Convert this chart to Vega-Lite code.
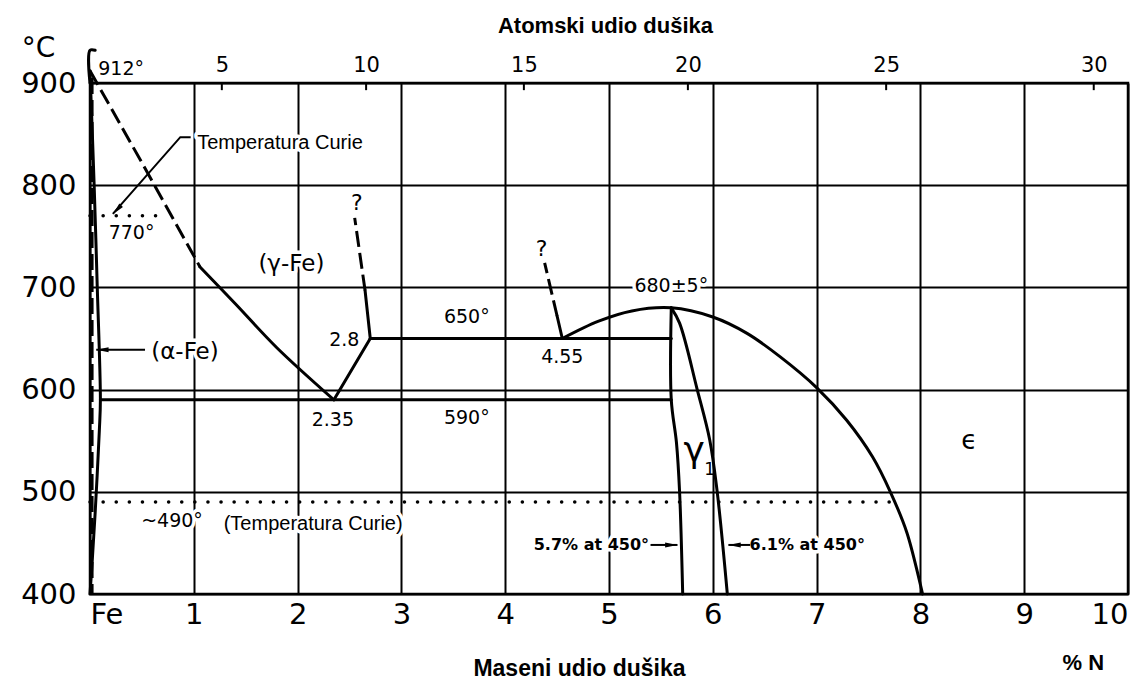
{
  "$schema": "https://vega.github.io/schema/vega-lite/v6.json",
  "width": 1038,
  "height": 511,
  "autosize": "none",
  "padding": {"left": 90, "top": 83, "right": 18, "bottom": 86},
  "background": "white",
  "config": {"view": {"stroke": "black", "strokeWidth": 2.5}},
  "datasets": {
    "solid": [
      {"id": "alpha", "o": 0, "x": 0, "t": 912}, {"id": "alpha", "o": 1, "x": 0.04, "t": 800}, {"id": "alpha", "o": 2, "x": 0.07, "t": 700}, {"id": "alpha", "o": 3, "x": 0.1, "t": 590}, {"id": "alpha", "o": 4, "x": 0.09, "t": 560}, {"id": "alpha", "o": 5, "x": 0.05, "t": 480}, {"id": "alpha", "o": 6, "x": 0.02, "t": 430}, {"id": "alpha", "o": 7, "x": 0, "t": 400},
      {"id": "a3s", "o": 0, "x": 1.06, "t": 720}, {"id": "a3s", "o": 1, "x": 1.4, "t": 684}, {"id": "a3s", "o": 2, "x": 1.8, "t": 641}, {"id": "a3s", "o": 3, "x": 2.35, "t": 590},
      {"id": "g1", "o": 0, "x": 2.35, "t": 590}, {"id": "g1", "o": 1, "x": 2.7, "t": 650},
      {"id": "g2s", "o": 0, "x": 2.7, "t": 650}, {"id": "g2s", "o": 1, "x": 2.65, "t": 697},
      {"id": "h590", "o": 0, "x": 0.1, "t": 590}, {"id": "h590", "o": 1, "x": 5.6, "t": 590},
      {"id": "h650", "o": 0, "x": 2.7, "t": 650}, {"id": "h650", "o": 1, "x": 5.6, "t": 650},
      {"id": "q1s", "o": 0, "x": 4.55, "t": 650}, {"id": "q1s", "o": 1, "x": 4.5, "t": 672},
      {"id": "dome", "o": 0, "x": 4.55, "t": 650}, {"id": "dome", "o": 1, "x": 4.9, "t": 667}, {"id": "dome", "o": 2, "x": 5.22, "t": 677}, {"id": "dome", "o": 3, "x": 5.6, "t": 680}, {"id": "dome", "o": 4, "x": 6.0, "t": 671}, {"id": "dome", "o": 5, "x": 6.33, "t": 655}, {"id": "dome", "o": 6, "x": 6.65, "t": 632}, {"id": "dome", "o": 7, "x": 7.0, "t": 602}, {"id": "dome", "o": 8, "x": 7.29, "t": 570}, {"id": "dome", "o": 9, "x": 7.54, "t": 534}, {"id": "dome", "o": 10, "x": 7.71, "t": 500}, {"id": "dome", "o": 11, "x": 7.87, "t": 460}, {"id": "dome", "o": 12, "x": 8.02, "t": 400},
      {"id": "gpl", "o": 0, "x": 5.6, "t": 680}, {"id": "gpl", "o": 1, "x": 5.6, "t": 590}, {"id": "gpl", "o": 2, "x": 5.65, "t": 548}, {"id": "gpl", "o": 3, "x": 5.68, "t": 500}, {"id": "gpl", "o": 4, "x": 5.71, "t": 400},
      {"id": "gpr", "o": 0, "x": 5.6, "t": 680}, {"id": "gpr", "o": 1, "x": 5.68, "t": 665}, {"id": "gpr", "o": 2, "x": 5.85, "t": 600}, {"id": "gpr", "o": 3, "x": 5.97, "t": 551}, {"id": "gpr", "o": 4, "x": 6.04, "t": 502}, {"id": "gpr", "o": 5, "x": 6.14, "t": 400},
      {"id": "frameext", "o": 0, "x": 0, "t": 900}, {"id": "frameext", "o": 1, "x": 0, "t": 932}, {"id": "frameext", "o": 2, "x": 0.05, "t": 932}
    ],
    "dashed": [
      {"id": "a3d", "o": 0, "x": 0, "t": 912}, {"id": "a3d", "o": 1, "x": 0.5, "t": 822}, {"id": "a3d", "o": 2, "x": 1.06, "t": 720},
      {"id": "g2d", "o": 0, "x": 2.65, "t": 697}, {"id": "g2d", "o": 1, "x": 2.55, "t": 768},
      {"id": "q1d", "o": 0, "x": 4.5, "t": 672}, {"id": "q1d", "o": 1, "x": 4.38, "t": 724},
      {"id": "adash", "o": 0, "x": 0.02, "t": 905}, {"id": "adash", "o": 1, "x": 0.02, "t": 400}
    ],
    "dotted": [
      {"id": "c770", "o": 0, "x": 0, "t": 770}, {"id": "c770", "o": 1, "x": 0.74, "t": 770},
      {"id": "c490", "o": 0, "x": 0, "t": 490}, {"id": "c490", "o": 1, "x": 7.76, "t": 490}
    ],
    "leaders": [
      {"id": "l1", "o": 0, "x": 0.97, "t": 847}, {"id": "l1", "o": 1, "x": 0.87, "t": 847}, {"id": "l1", "o": 2, "x": 0.22, "t": 772},
      {"id": "l2", "o": 0, "x": 0.53, "t": 639}, {"id": "l2", "o": 1, "x": 0.06, "t": 639},
      {"id": "l3", "o": 0, "x": 5.4, "t": 448}, {"id": "l3", "o": 1, "x": 5.66, "t": 448},
      {"id": "l4", "o": 0, "x": 6.36, "t": 448}, {"id": "l4", "o": 1, "x": 6.15, "t": 448}
    ],
    "arrowLeft": [{"x": 0.12, "t": 639}, {"x": 6.21, "t": 448}],
    "arrowRight": [{"x": 5.6, "t": 448}],
    "arrowDiag": [{"x": 0.26, "t": 776}],
    "numLabels": [
      {"label": "912°", "x": 0.3, "t": 914},
      {"label": "770°", "x": 0.4, "t": 753},
      {"label": "2.8", "x": 2.45, "t": 649},
      {"label": "650°", "x": 3.63, "t": 671},
      {"label": "4.55", "x": 4.55, "t": 632},
      {"label": "2.35", "x": 2.34, "t": 570},
      {"label": "590°", "x": 3.63, "t": 572},
      {"label": "680±5°", "x": 5.6, "t": 701},
      {"label": "~490°", "x": 0.79, "t": 471}
    ],
    "phaseLabels": [
      {"label": "(γ-Fe)", "x": 1.94, "t": 723},
      {"label": "(α-Fe)", "x": 0.915, "t": 637}
    ],
    "qLabels": [
      {"label": "?", "x": 2.57, "t": 783},
      {"label": "?", "x": 4.35, "t": 738}
    ],
    "arialLabels": [
      {"label": "Temperatura Curie", "x": 1.83, "t": 841},
      {"label": "(Temperatura Curie)", "x": 2.15, "t": 468.5}
    ],
    "smallLabels": [
      {"label": "5.7% at 450°", "x": 4.83, "t": 448},
      {"label": "6.1% at 450°", "x": 6.91, "t": 448}
    ],
    "gammaLabel": [{"label": "γ", "x": 5.82, "t": 540}],
    "subLabel": [{"label": "1", "x": 5.97, "t": 521}],
    "epsLabel": [{"label": "ϵ", "x": 8.47, "t": 550}],
    "unitLabel": [{"label": "% N", "x": 9.57, "t": 332}],
    "atomTicks": [
      {"at": 5, "x": 1.27}, {"at": 10, "x": 2.66}, {"at": 15, "x": 4.18}, {"at": 20, "x": 5.76}, {"at": 25, "x": 7.67}, {"at": 30, "x": 9.67}
    ]
  },
  "layer": [
    {
      "layer": [
        {
          "data": {"name": "numLabels"},
          "mark": {"type": "text", "font": "DejaVu Sans", "fontSize": 19, "fill": "white", "stroke": "white", "strokeWidth": 7, "strokeJoin": "round"},
          "encoding": {
            "x": {"field": "x", "type": "quantitative", "scale": {"domain": [0, 10], "nice": false, "zero": false},
              "axis": {"orient": "bottom", "values": [0, 1, 2, 3, 4, 5, 6, 7, 8, 9, 10], "format": "d", "labelExpr": "datum.value == 0 ? 'Fe' : datum.label",
                "labelFont": "DejaVu Sans", "labelFontSize": 29, "labelColor": "black", "labelPadding": 6, "ticks": false, "domain": false,
                "grid": true, "gridColor": "black", "gridWidth": 2, "gridOpacity": 1,
                "title": "Maseni udio dušika", "titleFont": "Liberation Sans", "titleFontSize": 23, "titleFontWeight": "bold", "titleColor": "black",
                "titleX": 489, "titleY": 74, "titleAlign": "center", "titleBaseline": "middle"}},
            "y": {"field": "t", "type": "quantitative", "scale": {"domain": [400, 900], "nice": false, "zero": false},
              "axis": {"values": [400, 500, 600, 700, 800, 900], "labelFont": "DejaVu Sans", "labelFontSize": 29, "labelColor": "black", "labelPadding": 14,
                "ticks": false, "domain": false, "grid": true, "gridColor": "black", "gridWidth": 2, "gridOpacity": 1,
                "title": "°C", "titleAngle": 0, "titleX": -52, "titleY": -35, "titleAlign": "center", "titleBaseline": "middle",
                "titleFont": "DejaVu Sans", "titleFontSize": 28, "titleFontWeight": "normal", "titleColor": "black"}},
            "text": {"field": "label"}
          }
        },
        {
          "data": {"name": "phaseLabels"},
          "mark": {"type": "text", "font": "DejaVu Sans", "fontSize": 23, "fill": "white", "stroke": "white", "strokeWidth": 7, "strokeJoin": "round"},
          "encoding": {"x": {"field": "x", "type": "quantitative"}, "y": {"field": "t", "type": "quantitative"}, "text": {"field": "label"}}
        },
        {
          "data": {"name": "arialLabels"},
          "mark": {"type": "text", "font": "Liberation Sans", "fontSize": 20, "fill": "white", "stroke": "white", "strokeWidth": 7, "strokeJoin": "round"},
          "encoding": {"x": {"field": "x", "type": "quantitative"}, "y": {"field": "t", "type": "quantitative"}, "text": {"field": "label"}}
        },
        {
          "data": {"name": "smallLabels"},
          "mark": {"type": "text", "font": "DejaVu Sans", "fontSize": 16, "fontWeight": "bold", "fill": "white", "stroke": "white", "strokeWidth": 7, "strokeJoin": "round"},
          "encoding": {"x": {"field": "x", "type": "quantitative"}, "y": {"field": "t", "type": "quantitative"}, "text": {"field": "label"}}
        },
        {
          "data": {"name": "solid"},
          "mark": {"type": "line", "color": "black", "strokeWidth": 3, "strokeCap": "round", "strokeJoin": "round", "interpolate": "catmull-rom"},
          "encoding": {"x": {"field": "x", "type": "quantitative"}, "y": {"field": "t", "type": "quantitative"}, "detail": {"field": "id"}, "order": {"field": "o"}}
        },
        {
          "data": {"name": "dashed"},
          "mark": {"type": "line", "color": "black", "strokeWidth": 3, "strokeDash": [16, 6]},
          "encoding": {"x": {"field": "x", "type": "quantitative"}, "y": {"field": "t", "type": "quantitative"}, "detail": {"field": "id"}, "order": {"field": "o"}}
        },
        {
          "data": {"name": "dotted"},
          "mark": {"type": "line", "color": "black", "strokeWidth": 3.5, "strokeCap": "round", "strokeDash": [0.1, 13]},
          "encoding": {"x": {"field": "x", "type": "quantitative"}, "y": {"field": "t", "type": "quantitative"}, "detail": {"field": "id"}, "order": {"field": "o"}}
        },
        {
          "data": {"name": "leaders"},
          "mark": {"type": "line", "color": "black", "strokeWidth": 2},
          "encoding": {"x": {"field": "x", "type": "quantitative"}, "y": {"field": "t", "type": "quantitative"}, "detail": {"field": "id"}, "order": {"field": "o"}}
        },
        {
          "data": {"name": "arrowLeft"},
          "mark": {"type": "point", "shape": "M-1,0L1,-0.4L1,0.4Z", "filled": true, "color": "black", "opacity": 1, "size": 150},
          "encoding": {"x": {"field": "x", "type": "quantitative"}, "y": {"field": "t", "type": "quantitative"}}
        },
        {
          "data": {"name": "arrowRight"},
          "mark": {"type": "point", "shape": "M1,0L-1,-0.4L-1,0.4Z", "filled": true, "color": "black", "opacity": 1, "size": 150},
          "encoding": {"x": {"field": "x", "type": "quantitative"}, "y": {"field": "t", "type": "quantitative"}}
        },
        {
          "data": {"name": "arrowDiag"},
          "mark": {"type": "point", "shape": "M-1,0L1,-0.4L1,0.4Z", "angle": 313, "filled": true, "color": "black", "opacity": 1, "size": 150},
          "encoding": {"x": {"field": "x", "type": "quantitative"}, "y": {"field": "t", "type": "quantitative"}}
        },
        {
          "data": {"name": "numLabels"},
          "mark": {"type": "text", "font": "DejaVu Sans", "fontSize": 19, "color": "black"},
          "encoding": {"x": {"field": "x", "type": "quantitative"}, "y": {"field": "t", "type": "quantitative"}, "text": {"field": "label"}}
        },
        {
          "data": {"name": "phaseLabels"},
          "mark": {"type": "text", "font": "DejaVu Sans", "fontSize": 23, "color": "black"},
          "encoding": {"x": {"field": "x", "type": "quantitative"}, "y": {"field": "t", "type": "quantitative"}, "text": {"field": "label"}}
        },
        {
          "data": {"name": "qLabels"},
          "mark": {"type": "text", "font": "DejaVu Sans", "fontSize": 22, "color": "black"},
          "encoding": {"x": {"field": "x", "type": "quantitative"}, "y": {"field": "t", "type": "quantitative"}, "text": {"field": "label"}}
        },
        {
          "data": {"name": "arialLabels"},
          "mark": {"type": "text", "font": "Liberation Sans", "fontSize": 20, "color": "black"},
          "encoding": {"x": {"field": "x", "type": "quantitative"}, "y": {"field": "t", "type": "quantitative"}, "text": {"field": "label"}}
        },
        {
          "data": {"name": "smallLabels"},
          "mark": {"type": "text", "font": "DejaVu Sans", "fontSize": 16, "fontWeight": "bold", "color": "black"},
          "encoding": {"x": {"field": "x", "type": "quantitative"}, "y": {"field": "t", "type": "quantitative"}, "text": {"field": "label"}}
        },
        {
          "data": {"name": "gammaLabel"},
          "mark": {"type": "text", "font": "DejaVu Sans", "fontSize": 36, "color": "black"},
          "encoding": {"x": {"field": "x", "type": "quantitative"}, "y": {"field": "t", "type": "quantitative"}, "text": {"field": "label"}}
        },
        {
          "data": {"name": "subLabel"},
          "mark": {"type": "text", "font": "DejaVu Sans", "fontSize": 17, "color": "black"},
          "encoding": {"x": {"field": "x", "type": "quantitative"}, "y": {"field": "t", "type": "quantitative"}, "text": {"field": "label"}}
        },
        {
          "data": {"name": "epsLabel"},
          "mark": {"type": "text", "font": "DejaVu Sans", "fontSize": 26, "color": "black"},
          "encoding": {"x": {"field": "x", "type": "quantitative"}, "y": {"field": "t", "type": "quantitative"}, "text": {"field": "label"}}
        },
        {
          "data": {"name": "unitLabel"},
          "mark": {"type": "text", "font": "Liberation Sans", "fontSize": 22, "fontWeight": "bold", "color": "black"},
          "encoding": {"x": {"field": "x", "type": "quantitative"}, "y": {"field": "t", "type": "quantitative"}, "text": {"field": "label"}}
        }
      ]
    },
    {
      "data": {"name": "atomTicks"},
      "mark": {"type": "rule", "color": "black", "strokeWidth": 2},
      "encoding": {
        "x": {"field": "x", "type": "quantitative",
          "axis": {"orient": "top", "values": [1.27, 2.66, 4.18, 5.76, 7.67, 9.67],
            "labelExpr": "datum.value < 2 ? '5' : datum.value < 3.5 ? '10' : datum.value < 5 ? '15' : datum.value < 6.5 ? '20' : datum.value < 8.5 ? '25' : '30'",
            "labelFont": "DejaVu Sans", "labelFontSize": 21, "labelColor": "black", "labelPadding": 8, "ticks": false, "domain": false, "grid": false,
            "title": "Atomski udio dušika", "titleFont": "Liberation Sans", "titleFontSize": 22, "titleFontWeight": "bold", "titleColor": "black",
            "titleX": 515, "titleY": -58, "titleAlign": "center", "titleBaseline": "middle"}},
        "y": {"datum": 900, "type": "quantitative"},
        "y2": {"datum": 893}
      }
    }
  ],
  "resolve": {"axis": {"x": "independent"}}
}
